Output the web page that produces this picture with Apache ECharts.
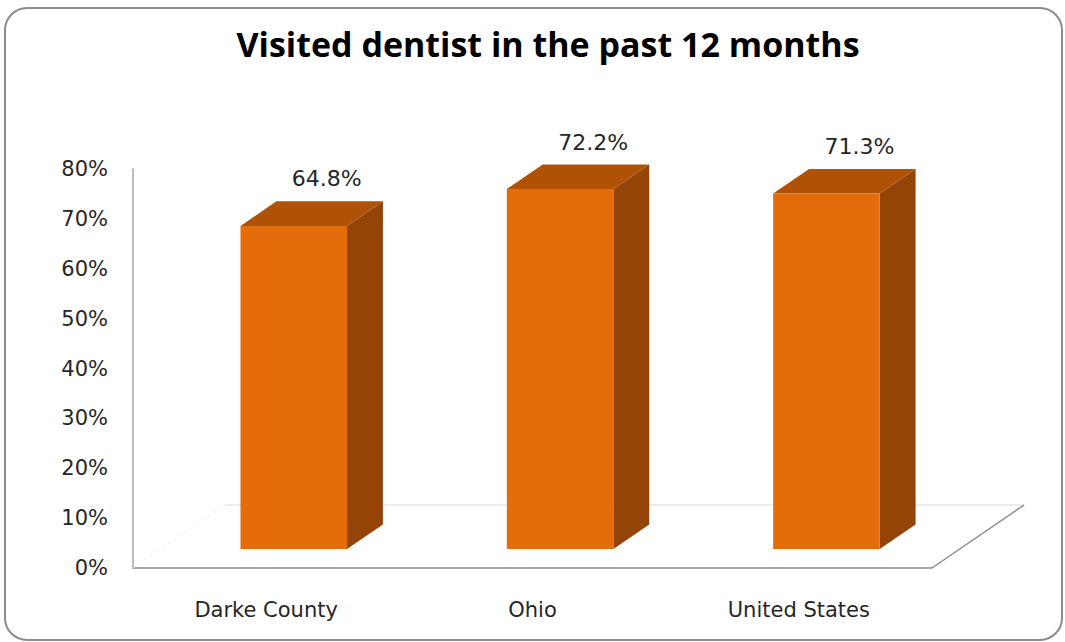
<!DOCTYPE html>
<html>
<head>
<meta charset="utf-8">
<title>Visited dentist in the past 12 months</title>
<script src="https://cdn.jsdelivr.net/npm/echarts@6/dist/echarts.min.js"></script>
<style>
  html, body { margin: 0; padding: 0; background: #fff; }
  #main { width: 1065px; height: 642px; }
</style>
</head>
<body>
<div id="main"></div>
<script>
// data
var categories = ["Darke County", "Ohio", "United States"];
var values = [64.8, 72.2, 71.3];
var yMin = 0, yMax = 80, yStep = 10;

// 3D look: floor depth vector, where the bars sit in it
var DEPTH_X = 92, DEPTH_Y = -63;
var BAR_FRONT = 0.3, BAR_DEPTH = 0.39;
var FRONT = "#e46c0a", TOP = "#b05205", SIDE = "#934406";
var FONT = "DejaVu Sans";

var chart = echarts.init(document.getElementById("main"), null, { renderer: "svg" });

function renderFloor(params, api) {
  var cs = params.coordSys;
  var x0 = cs.x, x1 = cs.x + cs.width, y0 = cs.y + cs.height;
  return {
    type: "group",
    children: [
      { type: "line", shape: { x1: x0 + DEPTH_X, y1: y0 + DEPTH_Y, x2: x1 + DEPTH_X, y2: y0 + DEPTH_Y },
        style: { stroke: "#d9d9d9", lineWidth: 1 } },
      { type: "line", shape: { x1: x0, y1: y0, x2: x0 + DEPTH_X, y2: y0 + DEPTH_Y },
        style: { stroke: "#eeeeee", lineWidth: 1, lineDash: [3, 4] } },
      { type: "line", shape: { x1: x1, y1: y0, x2: x1 + DEPTH_X, y2: y0 + DEPTH_Y },
        style: { stroke: "#8c8c8c", lineWidth: 1.5 } }
    ]
  };
}

function renderBar(params, api) {
  var i = api.value(0), v = api.value(1);
  var base = api.coord([i, 0]);
  var top = api.coord([i, v]);
  var w = api.size([1, 0])[0] * 0.4;
  var ox = DEPTH_X * BAR_FRONT, oy = DEPTH_Y * BAR_FRONT;
  var dx = DEPTH_X * BAR_DEPTH, dy = DEPTH_Y * BAR_DEPTH;
  var L = base[0] + ox - w / 2, R = L + w;
  var T = top[1] + oy, B = base[1] + oy;
  return {
    type: "group",
    children: [
      { type: "polygon", shape: { points: [[R, T], [R + dx, T + dy], [R + dx, B + dy], [R, B]] },
        style: { fill: SIDE } },
      { type: "polygon", shape: { points: [[L, T], [R, T], [R + dx, T + dy], [L + dx, T + dy]] },
        style: { fill: TOP } },
      { type: "rect", shape: { x: L, y: T, width: w, height: B - T },
        style: { fill: FRONT } },
      { type: "text", x: L + w / 2 + 33, y: T - 47,
        style: { text: v.toFixed(1) + "%", fill: "#262626", font: "22px '" + FONT + "'",
                 textAlign: "center", textVerticalAlign: "middle" } }
    ]
  };
}

var option = {
  backgroundColor: "#ffffff",
  animation: false,
  title: {
    text: "Visited dentist in the past 12 months",
    left: 543,
    textAlign: "center",
    top: 22,
    textStyle: { fontFamily: "Open Sans", fontWeight: "bold", fontSize: 34, color: "#000" }
  },
  graphic: [{
    type: "rect",
    shape: { x: 5, y: 8, width: 1057, height: 632, r: 22 },
    style: { fill: "none", stroke: "#8c8c8c", lineWidth: 2 },
    silent: true
  }],
  grid: { left: 133, right: 133, top: 169, bottom: 74 },
  xAxis: {
    type: "category",
    data: categories,
    axisLine: { lineStyle: { color: "#8c8c8c", width: 1.5 } },
    axisTick: { show: false },
    axisLabel: { margin: 31, fontSize: 21, fontFamily: FONT, color: "#262626" }
  },
  yAxis: {
    type: "value",
    min: yMin, max: yMax, interval: yStep,
    axisLine: { show: true, lineStyle: { color: "#a6a6a6", width: 1.5 } },
    axisTick: { show: false },
    splitLine: { show: false },
    axisLabel: { margin: 25, fontSize: 21, fontFamily: FONT, color: "#262626", formatter: "{value}%" }
  },
  series: [
    { type: "custom", renderItem: renderFloor, data: [[0]], z: 1, silent: true },
    { type: "custom", renderItem: renderBar, z: 2,
      data: values.map(function (v, i) { return [i, v]; }) }
  ]
};

chart.setOption(option);
</script>
</body>
</html>
